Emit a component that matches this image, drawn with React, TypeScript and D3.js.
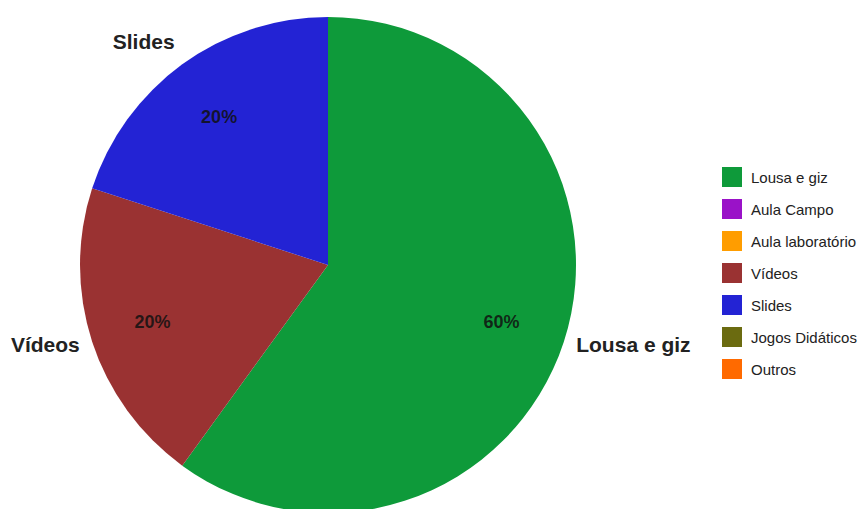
import React from "react";
import * as d3 from "d3";

const categories = ["Lousa e giz", "Aula Campo", "Aula laboratório", "Vídeos", "Slides", "Jogos Didáticos", "Outros"];
const values = [60, 0, 0, 20, 20, 0, 0];
const colors = ["#0e9a3a", "#9a12c8", "#ff9d00", "#9a3232", "#2323d4", "#6b6b10", "#ff6a00"];

export default function App() {
  const W = 861, H = 509;
  const cx = 328, cy = 265, R = 248;
  const data = categories.map((c, i) => ({ name: c, value: values[i], color: colors[i] }));
  const pie = d3.pie<any>().sort(null).value((d: any) => d.value);
  const arcs = pie(data).filter((a) => a.data.value > 0);
  const arcGen = d3.arc<any>().innerRadius(0).outerRadius(R);
  const labelArc = d3.arc<any>().innerRadius(R * 0.74).outerRadius(R * 0.74);
  const outerArc = d3.arc<any>().innerRadius(261).outerRadius(261);
  const legendY = d3.scaleBand<string>().domain(categories).range([161, 385]);
  const total = d3.sum(values);

  return (
    <svg width={W} height={H} style={{ position: "absolute", left: 0, top: 0, background: "#fff" }}
      fontFamily="'Liberation Sans', Arial, sans-serif">
      <g transform={`translate(${cx},${cy})`}>
        {arcs.map((a, i) => (
          <path key={i} d={arcGen(a) as string} fill={a.data.color} />
        ))}
        {arcs.map((a, i) => {
          const [x, y] = labelArc.centroid(a);
          return (
            <text key={"p" + i} x={x - 1} y={y} textAnchor="middle" dominantBaseline="central"
              fontSize={18} fontWeight="bold" fill="#111" fillOpacity={0.85}>
              {Math.round((a.data.value / total) * 100)}%
            </text>
          );
        })}
        {arcs.map((a, i) => {
          const [x, y] = outerArc.centroid(a);
          const mid = (a.startAngle + a.endAngle) / 2;
          const right = Math.sin(mid) > 0;
          const upper = Math.cos(mid) > 0;
          return (
            <text key={"n" + i} x={x} y={y + (upper ? -12 : -1)} textAnchor={right ? "start" : "end"}
              dominantBaseline="central" fontSize={21} fontWeight="bold" fill="#222">
              {a.data.name}
            </text>
          );
        })}
      </g>
      <g>
        {data.map((d, i) => {
          const y = (legendY(d.name) as number) + legendY.bandwidth() / 2;
          return (
            <g key={"l" + i}>
              <rect x={722} y={y - 10} width={20} height={20} fill={d.color} />
              <text x={751} y={y} dominantBaseline="central" fontSize={15} fill="#222">{d.name}</text>
            </g>
          );
        })}
      </g>
    </svg>
  );
}
